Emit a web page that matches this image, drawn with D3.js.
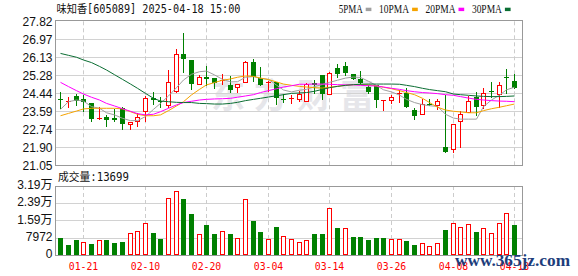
<!DOCTYPE html>
<html><head><meta charset="utf-8">
<script src="https://cdn.jsdelivr.net/npm/d3@7"></script>
<style>body{margin:0;background:#fff}svg{display:block}</style>
</head><body><svg id="c" width="578" height="276"></svg>
<script>
const dates = ["01-16","01-17","01-20","01-21","01-22","01-23","01-24","01-27","02-05","02-06","02-07","02-10","02-11","02-12","02-13","02-14","02-17","02-18","02-19","02-20","02-21","02-24","02-25","02-26","02-27","02-28","03-03","03-04","03-05","03-06","03-07","03-10","03-11","03-12","03-13","03-14","03-17","03-18","03-19","03-20","03-21","03-24","03-25","03-26","03-27","03-28","03-31","04-01","04-02","04-03","04-07","04-08","04-09","04-10","04-11","04-14","04-15","04-16","04-17","04-18"];
const open  = [24.15,24.01,24.31,24.18,23.96,23.26,23.32,23.29,23.74,22.99,23.13,23.59,24.21,24.07,23.87,24.53,26.28,26.00,24.86,25.19,25.14,25.01,24.82,24.75,24.95,25.91,25.14,24.90,24.95,24.19,24.18,24.17,24.06,24.93,25.30,24.40,25.61,25.72,25.34,25.11,24.71,24.82,24.09,24.12,24.43,24.43,23.63,23.45,23.93,23.87,21.91,21.80,23.12,23.56,24.28,23.87,24.56,24.40,25.19,25.01];
const high  = [24.51,24.25,24.40,24.34,23.99,23.77,23.43,23.68,23.81,23.08,23.53,24.31,24.50,24.28,25.53,26.50,27.25,26.00,25.30,25.72,25.14,25.34,25.25,24.87,25.95,26.06,25.67,25.00,24.95,24.40,24.35,24.53,24.90,25.06,25.30,25.45,25.81,25.91,25.34,25.50,24.81,24.82,24.12,24.37,24.59,24.67,23.73,24.15,24.15,24.15,24.34,22.98,23.62,24.31,24.50,24.67,24.97,24.97,25.56,25.34];
const low   = [23.73,23.78,23.89,23.62,23.15,23.24,22.90,23.12,22.76,22.77,22.91,23.15,23.93,23.78,23.78,24.50,25.44,24.65,24.86,24.81,24.68,24.87,24.48,24.51,24.95,25.03,24.81,24.53,23.92,24.03,23.96,24.06,24.06,24.47,24.15,24.40,25.22,25.30,25.09,24.87,24.45,23.77,23.65,23.96,24.03,23.77,23.24,23.45,23.87,23.68,21.66,21.69,21.93,23.56,23.43,23.74,24.25,23.77,24.47,24.67];
const close = [24.12,24.07,24.09,24.04,23.24,23.29,23.20,23.20,22.98,23.08,23.30,24.21,24.12,24.05,24.97,26.28,26.03,24.87,25.19,25.11,24.90,25.06,24.57,24.87,25.89,25.20,24.84,24.97,24.20,24.17,24.23,24.40,24.87,24.81,24.40,25.41,25.33,25.41,25.12,24.94,24.51,24.12,24.11,24.25,24.47,23.81,23.38,23.92,23.91,24.06,21.66,22.98,23.45,24.06,23.81,24.43,24.54,24.81,25.17,24.67];
const ma5  = [23.68,24.04,24.12,24.07,23.81,23.73,23.52,23.42,23.26,23.15,23.15,23.34,23.68,23.96,24.31,24.70,25.06,25.33,25.45,25.48,25.30,25.09,24.97,24.98,25.19,25.22,25.14,25.09,24.82,24.59,24.50,24.58,24.62,24.75,24.85,24.95,25.05,25.15,25.20,25.18,25.00,24.80,24.60,24.50,24.35,24.15,24.00,23.90,23.85,23.82,23.45,23.27,23.22,23.22,23.22,23.81,24.12,24.35,24.60,24.72];
const ma10 = [23.38,23.49,23.60,23.70,23.73,23.73,23.73,23.73,23.70,23.57,23.45,23.38,23.38,23.42,23.62,23.84,24.04,24.36,24.62,24.83,24.94,25.05,25.11,25.19,25.25,25.23,25.15,25.08,24.97,24.87,24.81,24.76,24.73,24.70,24.68,24.72,24.76,24.81,24.84,24.84,24.83,24.78,24.72,24.65,24.56,24.47,24.37,24.20,24.00,23.78,23.65,23.59,23.56,23.52,23.52,23.62,23.71,23.78,23.85,23.93];
const ma20 = [24.95,24.75,24.56,24.40,24.25,24.12,23.96,23.84,23.71,23.59,23.48,23.42,23.45,23.57,23.73,23.89,24.00,24.06,24.12,24.15,24.17,24.18,24.20,24.25,24.31,24.37,24.47,24.56,24.65,24.73,24.79,24.86,24.86,24.87,24.87,24.86,24.84,24.83,24.83,24.81,24.79,24.78,24.73,24.67,24.62,24.56,24.51,24.47,24.45,24.42,24.37,24.34,24.28,24.21,24.15,24.12,24.09,24.07,24.06,24.04];
const ma30 = [26.31,26.22,26.13,26.00,25.88,25.70,25.53,25.31,25.09,24.87,24.67,24.43,24.20,24.07,24.04,24.01,24.00,24.00,23.96,23.95,23.93,23.93,23.96,24.01,24.09,24.15,24.20,24.26,24.32,24.37,24.43,24.45,24.47,24.53,24.62,24.70,24.76,24.81,24.84,24.86,24.87,24.87,24.87,24.87,24.86,24.81,24.75,24.67,24.61,24.56,24.51,24.40,24.37,24.34,24.31,24.29,24.28,24.28,24.29,24.31];
const volume = [7735,4486,6807,5879,4950,6652,6807,5415,5879,9901,10829,14542,10056,7271,26144,29393,25835,18873,9437,13768,9591,10829,9591,7580,25680,15625,10520,7116,12840,8509,7116,5879,6807,9591,9591,21503,12221,12221,8044,8044,6807,7580,7580,7116,7116,6343,4486,5260,3868,5260,11448,14542,12685,14078,10520,12221,9901,14542,19183,13699];
const volUp = [0,0,0,1,0,1,0,0,0,1,1,1,0,0,1,1,0,0,1,0,0,1,0,1,1,0,0,1,0,1,1,1,1,0,0,1,0,1,0,0,0,0,0,1,1,0,0,1,1,1,0,1,1,1,0,1,1,1,1,0];
const priceTicks = [21.05,21.90,22.74,23.59,24.44,25.28,26.13,26.97,27.82];
const priceTickLabels = ["21.05","21.90","22.74","23.59","24.44","25.28","26.13","26.97","27.82"];
const volTicks = [0,7972,15944,23916,31888];
const volTickLabels = ["0","7972","1.59万","2.39万","3.19万"];
const dateTicks = ["01-21","02-10","02-20","03-04","03-14","03-26","04-08","04-18"];
const maNames = ["5PMA","10PMA","20PMA","30PMA"];
const maColors = ["#a0a0a0","#f5a300","#ff00ff","#0b6e33"];
const titleText = "味知香[605089] 2025-04-18 15:00";
const volTitle = "成交量:13699";

const RED = "#ff0000", GREEN = "#008000";
const L = 55.5, R = 522.5, PT = 21.3, PB = 165.3, VT = 186, VB = 254.7;
const svg = d3.select("#c");
svg.append("rect").attr("width",578).attr("height",276).attr("fill","#fff");

const x = d3.scaleBand().domain(dates).range([56.5, 517.9]);
const bw = x.bandwidth();
const cx = d => Math.round(x(d) + bw/2);
const y = d3.scaleLinear().domain([21.05, 27.82]).range([PB, PT]);
const yv = d3.scaleLinear().domain([0, 31888]).range([VB, VT]);
const cr = v => Math.round(v) + 0.5;

// watermark
svg.append("text").attr("x",211).attr("y",108).attr("font-family","Noto Sans CJK SC").attr("font-weight","bold")
  .attr("font-size",34).attr("letter-spacing",9).attr("fill","#e6e6ea").text("东方财富");

// gridlines
const g = svg.append("g");
g.selectAll("line.hp").data(priceTicks.slice(1,-1)).join("line")
  .attr("x1",L).attr("x2",R).attr("y1",d=>cr(y(d))).attr("y2",d=>cr(y(d))).attr("stroke","#d2d2d2");
g.selectAll("line.hv").data(volTicks.slice(1,-1)).join("line").attr("class","hv")
  .attr("x1",L).attr("x2",R).attr("y1",d=>cr(yv(d))).attr("y2",d=>cr(yv(d))).attr("stroke","#d2d2d2");
dateTicks.forEach(d => {
  const xx = cx(d) + 0.5;
  [[PT,PB],[VT,VB]].forEach(([a,b]) => g.append("line").attr("x1",xx).attr("x2",xx).attr("y1",a).attr("y2",b)
    .attr("stroke","#cccccc").attr("stroke-dasharray","4,3"));
});

// frames
svg.append("rect").attr("x",L).attr("y",cr(PT)-1).attr("width",R-L).attr("height",cr(PB)-cr(PT)+1)
  .attr("fill","none").attr("stroke","#999");
svg.append("rect").attr("x",L).attr("y",cr(VT)).attr("width",R-L).attr("height",cr(VB)-cr(VT))
  .attr("fill","none").attr("stroke","#999");

// candles
const cg = svg.append("g");
dates.forEach((d,i) => {
  const c = cx(d);
  const up = close[i] >= open[i];
  const col = up ? RED : GREEN;
  cg.append("line").attr("x1",c+0.5).attr("x2",c+0.5).attr("y1",Math.round(y(high[i]))).attr("y2",Math.round(y(low[i]))+1)
    .attr("stroke",col);
  const yt = Math.round(y(Math.max(open[i],close[i]))), yb = Math.round(y(Math.min(open[i],close[i])));
  if (up) {
    if (yb - yt >= 2) cg.append("rect").attr("x",c-1.5).attr("y",yt+0.5).attr("width",4).attr("height",yb-yt)
      .attr("fill","#fff").attr("stroke",col);
    else cg.append("rect").attr("x",c-2).attr("y",yt).attr("width",5).attr("height",Math.max(1,yb-yt)).attr("fill",col);
  } else {
    cg.append("rect").attr("x",c-2).attr("y",yt).attr("width",5).attr("height",Math.max(1,yb-yt)).attr("fill",col);
  }
});

// MA lines
[ma5,ma10,ma20,ma30].forEach((arr,k) => {
  const line = d3.line().x((v,i)=>cx(dates[i])+0.5).y(v=>y(v));
  svg.append("path").attr("d",line(arr)).attr("fill","none").attr("stroke",maColors[k]).attr("stroke-width",1);
});

// volume bars
const vg = svg.append("g");
dates.forEach((d,i) => {
  const c = cx(d);
  const top = Math.round(yv(volume[i])), bot = Math.round(VB);
  if (volUp[i]) vg.append("rect").attr("x",c-1.5).attr("y",top+0.5).attr("width",4).attr("height",bot-top-1)
      .attr("fill","#fff").attr("stroke",RED);
  else vg.append("rect").attr("x",c-2).attr("y",top).attr("width",5).attr("height",bot-top).attr("fill",GREEN);
});

// axis labels
const lab = svg.append("g").attr("font-family","Liberation Sans, Arial, sans-serif").attr("font-size",12).attr("fill","#111");
priceTicks.forEach((t,i) => lab.append("text").attr("x",52.5).attr("y",y(t)).attr("dy","0.36em")
  .attr("text-anchor","end").text(priceTickLabels[i]));
volTicks.forEach((t,i) => lab.append("text").attr("x",52.5).attr("y",yv(t)-1).attr("dy","0.36em")
  .attr("text-anchor","end").attr("font-family","Liberation Sans, Noto Sans CJK SC, sans-serif").text(volTickLabels[i]));
dateTicks.forEach(d => svg.append("text").attr("x",cx(d)+0.5).attr("y",270).attr("text-anchor","middle")
  .attr("font-family","DejaVu Sans Mono, monospace").attr("font-size",11).attr("fill",RED)
  .attr("textLength",29.5).attr("lengthAdjust","spacingAndGlyphs").text(d));

// title
svg.append("text").attr("x",56.5).attr("y",13).attr("font-family","DejaVu Sans Mono, Noto Sans CJK SC, monospace")
  .attr("font-size",11.5).attr("fill","#111").attr("textLength",184).attr("lengthAdjust","spacingAndGlyphs").text(titleText);
svg.append("text").attr("x",58).attr("y",181).attr("font-family","DejaVu Sans Mono, Noto Sans CJK SC, monospace")
  .attr("font-size",11.5).attr("fill","#111").attr("textLength",71).attr("lengthAdjust","spacingAndGlyphs").text(volTitle);

// legend
let lx = 338.7;
maNames.forEach((n,k) => {
  const w = 6 * n.length;
  svg.append("text").attr("x",lx).attr("y",12.7).attr("font-family","Liberation Serif, serif").attr("font-size",12)
    .attr("fill","#111").attr("textLength",w).attr("lengthAdjust","spacingAndGlyphs").text(n);
  svg.append("rect").attr("x",lx+w+3).attr("y",7.7).attr("width",5.7).attr("height",3.4).attr("fill",maColors[k]);
  lx += w + 3 + 5.7 + 7.7;
});

// site watermark
svg.append("text").attr("x",455).attr("y",266).attr("font-family","Liberation Serif, serif").attr("font-weight","bold")
  .attr("font-size",16).attr("fill","#1d3d7c").attr("textLength",115).attr("lengthAdjust","spacingAndGlyphs").text("www.365jz.com");
</script></body></html>
